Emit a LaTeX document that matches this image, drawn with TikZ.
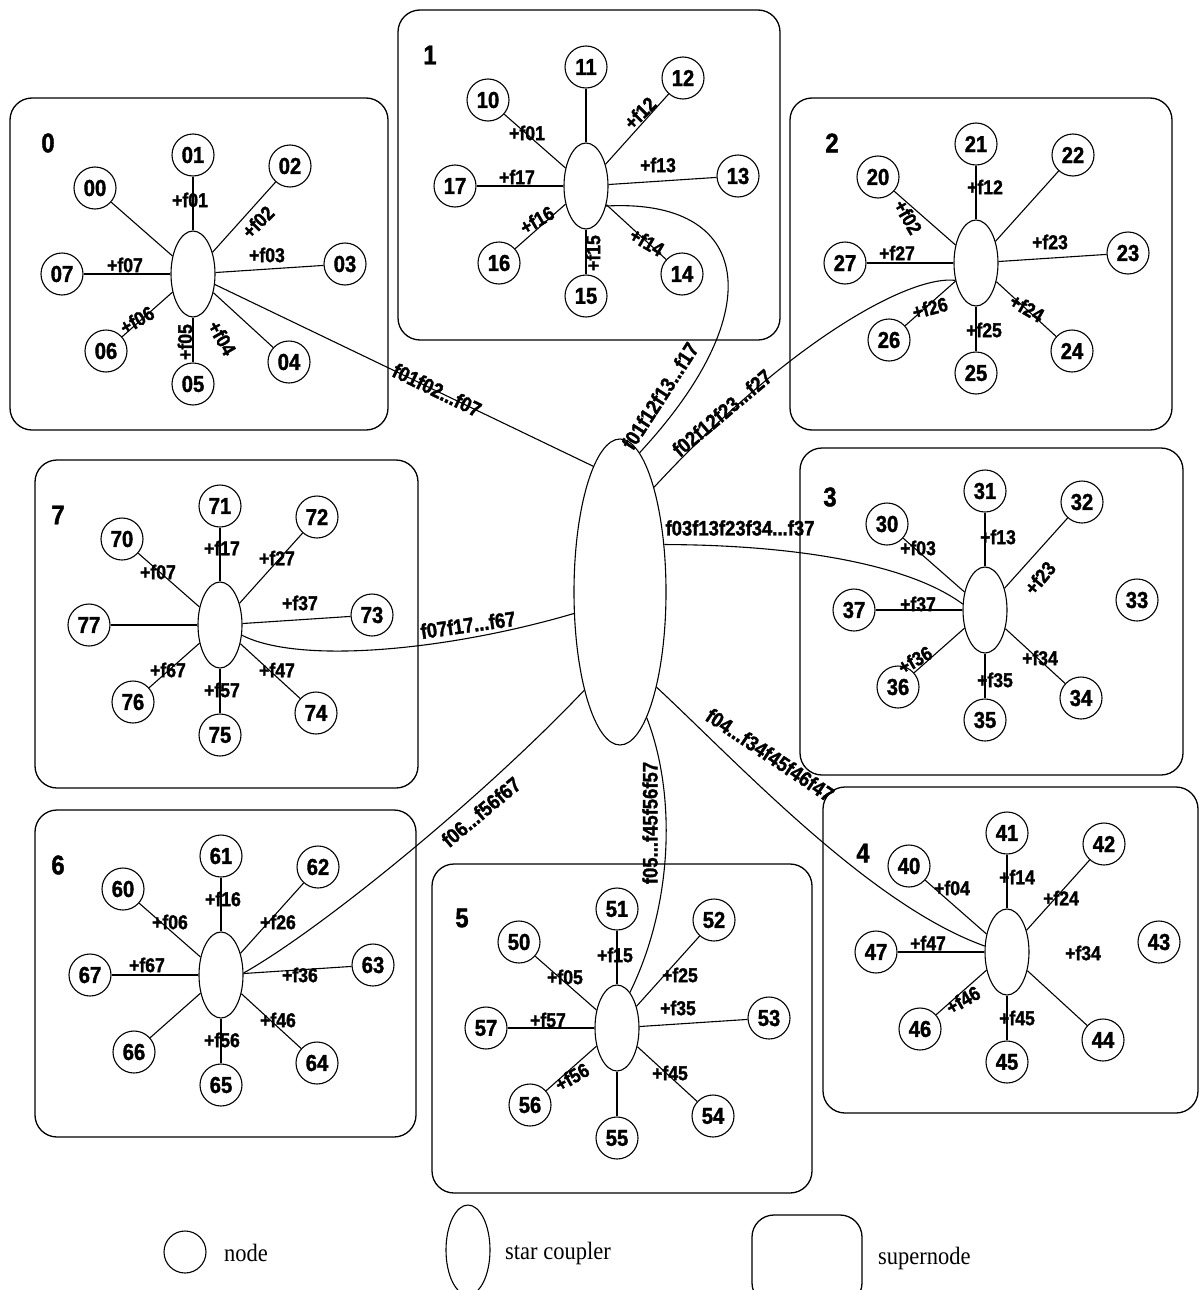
\documentclass[tikz,border=0pt]{standalone}
\usepackage{fontspec}
\usetikzlibrary{shapes.geometric}
\newfontfamily\dfont[FakeStretch=0.88, UprightFont={* Bold}, FakeBold=1.5]{Liberation Sans}
\newfontfamily\lfont[FakeStretch=0.9]{Liberation Serif}
\newcommand\mkstar[3]{%
  \node[coupler] (c#1) at (#2,#3) {};
  \foreach \j/\dx/\dy in {0/-98/-86,1/0/-119,2/97/-108,3/152/-10,4/96/88,5/0/110,6/-87/77,7/-131/0}{
    \node[nd] (n#1\j) at (#2+\dx,#3+\dy) {#1\j};
  }%
}
\tikzset{
  nd/.style={circle, draw, line width=1.1pt, minimum size=42pt, inner sep=0pt, font=\dfont\fontsize{23}{23}\selectfont},
  coupler/.style={ellipse, draw, line width=1.1pt, minimum width=44pt, minimum height=86pt, inner sep=0pt},
  lbl/.style={inner sep=0pt, font=\dfont\fontsize{20}{20}\selectfont},
  clbl/.style={inner sep=0pt, font=\dfont\fontsize{21}{21}\selectfont},
  boxnum/.style={inner sep=0pt, font=\dfont\fontsize{27}{27}\selectfont},
  supbox/.style={draw, line width=1.3pt, rounded corners=22pt, inner sep=0pt},
  link/.style={line width=1.1pt},
  ltxt/.style={inner sep=0pt, anchor=west, font=\lfont\fontsize{25}{25}\selectfont}
}
\begin{document}
\begin{tikzpicture}[x=1pt,y=-1pt]
\useasboundingbox (0,0) rectangle (1199,1290);
\clip (0,0) rectangle (1199,1290);
% supernodes
\node[supbox, minimum width=378pt, minimum height=332pt] (B0) at (199,264) {};
\node[supbox, minimum width=382pt, minimum height=330pt] (B1) at (589,175) {};
\node[supbox, minimum width=382pt, minimum height=332pt] (B2) at (981,264) {};
\node[supbox, minimum width=383pt, minimum height=327pt] (B3) at (991.5,611.5) {};
\node[supbox, minimum width=375pt, minimum height=326pt] (B4) at (1010.5,950) {};
\node[supbox, minimum width=380pt, minimum height=329pt] (B5) at (622,1028.5) {};
\node[supbox, minimum width=381pt, minimum height=327pt] (B6) at (225.5,973.5) {};
\node[supbox, minimum width=383pt, minimum height=328pt] (B7) at (226.5,624) {};
% box numbers
\node[boxnum] (k0) at (48,143) {0};
\node[boxnum] (k1) at (430,55) {1};
\node[boxnum] (k2) at (832,143) {2};
\node[boxnum] (k3) at (830,497) {3};
\node[boxnum] (k4) at (863,853) {4};
\node[boxnum] (k5) at (462,918) {5};
\node[boxnum] (k6) at (58,865) {6};
\node[boxnum] (k7) at (58,515) {7};
% stars
\mkstar{0}{193}{274}
\mkstar{1}{586}{186}
\mkstar{2}{976}{263}
\mkstar{3}{985}{610}
\mkstar{4}{1007}{952}
\mkstar{5}{617}{1028}
\mkstar{6}{221}{975}
\mkstar{7}{220}{625}
\foreach \i/\js in {0/{0,1,2,3,4,5,6,7},1/{0,1,2,3,4,5,6,7},2/{0,1,2,3,4,5,6,7},3/{0,1,2,4,5,6,7},4/{0,1,2,4,5,6,7},5/{0,1,2,3,4,5,6,7},6/{0,1,2,3,4,5,6,7},7/{0,1,2,3,4,5,6,7}}{
  \foreach \j in \js { \draw[link] (c\i) -- (n\i\j); }
}
% star labels
\foreach \x/\y/\r/\t [count=\k] in {
 190/200/0/+f01, 258/222/45/+f02, 267/255/0/+f03, 222/338/-60/+f04, 185/342/90/+f05, 137/320/30/+f06, 125/265/0/+f07,
 527/133/0/+f01, 640/113/45/+f12, 658/165/0/+f13, 647/242/-30/+f14, 593/253/90/+f15, 537/220/30/+f16, 517/177/0/+f17,
 908/217/-60/+f02, 985/187/0/+f12, 1050/242/0/+f23, 1027/308/-30/+f24, 984/330/0/+f25, 930/308/15/+f26, 897/253/0/+f27,
 918/548/0/+f03, 998/537/0/+f13, 1040/578/50/+f23, 1040/658/0/+f34, 995/680/0/+f35, 915/660/30/+f36, 918/604/0/+f37,
 952/888/0/+f04, 1017/877/0/+f14, 1061/898/0/+f24, 1083/953/0/+f34, 1017/1018/0/+f45, 963/1000/30/+f46, 928/943/0/+f47,
 565/977/0/+f05, 615/955/0/+f15, 680/975/0/+f25, 678/1008/0/+f35, 670/1073/0/+f45, 572/1077/30/+f56, 548/1020/0/+f57,
 170/922/0/+f06, 223/899/0/+f16, 278/922/0/+f26, 300/975/0/+f36, 278/1020/0/+f46, 222/1040/0/+f56, 147/965/0/+f67,
 158/572/0/+f07, 222/548/0/+f17, 277/558/0/+f27, 300/603/0/+f37, 277/670/0/+f47, 222/690/0/+f57, 168/670/0/+f67}{
  \node[lbl, rotate=\r] (p\k) at (\x,\y) {\t};
}
% central star coupler
\node[coupler, minimum width=92pt, minimum height=306pt] (C) at (620,592) {};
\draw[link] (c0) -- (C.102);
\draw[link] (c1.-45) .. controls (752,198) and (772,310) .. (C.82);
\draw[link] (c2.-140) .. controls (910,275) and (790,340) .. (C.72);
\draw[link] (C.47) .. controls (800,545) and (910,565) .. (c3.165);
\draw[link] (C.-69) .. controls (740,765) and (870,905) .. (c4.165);
\draw[link] (C.-78) .. controls (675,790) and (675,900) .. (c5.70);
\draw[link] (c6.5) .. controls (320,930) and (480,800) .. (C.-110);
\draw[link] (c7.-25) .. controls (300,665) and (450,650) .. (C.-155);
\node[clbl, rotate=-26] (q0) at (437,390) {f01f02...f07};
\node[clbl, rotate=57] (q1) at (660,396) {f01f12f13...f17};
\node[clbl, rotate=40] (q2) at (722,413) {f02f12f23...f27};
\node[clbl] (q3) at (740,528) {f03f13f23f34...f37};
\node[clbl, rotate=-34] (q4) at (770,755) {f04...f34f45f46f47};
\node[clbl, rotate=90] (q5) at (650,823) {f05...f45f56f57};
\node[clbl, rotate=40] (q6) at (481,812) {f06...f56f67};
\node[clbl, rotate=8] (q7) at (468,625) {f07f17...f67};
% legend
\node[nd] (lgn) at (185,1252) {};
\node[ltxt] (lgnt) at (224,1253) {node};
\node[coupler, minimum width=44pt, minimum height=90pt] (lgc) at (468,1250) {};
\node[ltxt] (lgct) at (505,1253) {star coupler};
\node[supbox, minimum width=110pt, minimum height=90pt] (lgs) at (807,1260) {};
\node[ltxt] (lgst) at (878,1258) {supernode};
\end{tikzpicture}
\end{document}
